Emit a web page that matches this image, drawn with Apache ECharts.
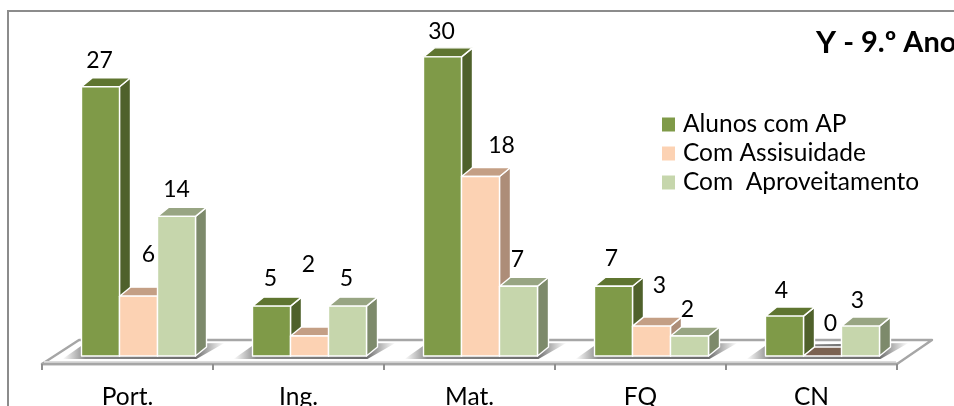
<!DOCTYPE html>
<html><head><meta charset="utf-8">
<style>html,body{margin:0;padding:0;background:#fff;overflow:hidden}#c{width:954px;height:406px}</style>
<script src="https://cdn.jsdelivr.net/npm/echarts@6/dist/echarts.min.js"></script>
</head><body><div id="c"></div>
<script>
const categories = ['Port.', 'Ing.', 'Mat.', 'FQ', 'CN'];
const alunosComAP = [27, 5, 30, 7, 4];
const comAssiduidade = [6, 2, 18, 3, 0];
const comAproveitamento = [14, 5, 7, 2, 3];
const seriesNames = ['Alunos com AP', 'Com Assisuidade', 'Com  Aproveitamento'];

const FONT = 'Lato';
const styles = [
  {front:'#7F9A48', top:'#5F7530', side:'#4F612B', zero:'#5F7530', slot:-38},
  {front:'#FCD2B3', top:'#C49F85', side:'#AD8D78', zero:'#7B6251', slot:0},
  {front:'#C6D6AC', top:'#98A583', side:'#7D8A6B', zero:'#98A583', slot:38}
];
// label offsets from the top-centre of each bar, as placed by hand in the original
const nudges = [
  [[-1,-26],[-1,-28],[-1,-25],[-2,-28],[-3,-26]],
  [[10,-42],[-1,-71],[21,-31],[8,-41],[8,-32]],
  [[0,-27],[-1,-28],[-1,-27],[-2,-26],[-3,-26]]
];
const BW = 38, DX = 11, DY = 9, SHIFT = 11;

function barSeries(values, idx) {
  const s = styles[idx];
  return {
    type: 'custom', name: seriesNames[idx], coordinateSystem: 'cartesian2d', z: 3 + idx,
    itemStyle: {color: s.front},
    data: values.map((v, i) => [categories[i], v]),
    encode: {x: 0, y: 1},
    renderItem(params, api) {
      const i = params.dataIndex, v = api.value(1);
      const base = api.coord([i, 0]), tip = api.coord([i, v]);
      const cx = base[0] + SHIFT + s.slot, l = cx - BW / 2, r = cx + BW / 2, b = base[1], t = tip[1];
      const edge = {stroke: '#fff', lineWidth: 1.4, lineJoin: 'round'};
      const n = nudges[idx][i];
      return {type: 'group', children: [
        {type:'polygon', shape:{points:[[r,b],[r+DX,b-DY],[r+DX,t-DY],[r,t]]}, style:{fill:s.side, ...edge}},
        {type:'polygon', shape:{points:[[l,t],[l+DX,t-DY],[r+DX,t-DY],[r,t]]}, style:{fill:v===0?s.zero:s.top, ...edge}},
        v===0 ? {type:'group'} : {type:'rect', shape:{x:l,y:t,width:BW,height:b-t}, style:{fill:s.front, ...edge}},
        {type:'text', z2:50, style:{text:String(v), x:cx+n[0], y:t+n[1], align:'center', verticalAlign:'middle',
          font:'23px '+FONT, fill:'#000'}}
      ]};
    }
  };
}

const option = {
  animation: false,
  backgroundColor: '#fff',
  title: {
    left: 816, top: 27, padding: 0,
    text: '{a|Y}{b| - 9.º Ano}',
    textStyle: {rich: {
      a: {fontFamily: FONT, fontWeight: 'bold', fontSize: 31, color:'#000'},
      b: {fontFamily: FONT, fontWeight: 'bold', fontSize: 29, color:'#000'}
    }}
  },
  legend: {
    orient: 'vertical', left: 662, top: 112, padding: 0,
    icon: 'rect', itemWidth: 13, itemHeight: 14, itemGap: 4,
    data: seriesNames.map((name, i) => ({name, itemStyle: {color: styles[i].front}})),
    textStyle: {fontFamily: FONT, fontSize: 24.5, lineHeight: 24, color: '#000', padding: [0,0,0,3]}
  },
  grid: {left: 42, width: 855, top: 7, height: 349, outerBoundsMode: 'none'},
  xAxis: {
    type: 'category', data: categories, offset: 8, z: 6,
    axisLine: {onZero: false, lineStyle: {color: '#a6a6a6', width: 2.4}},
    axisTick: {show: true, inside: false, length: 6, interval: 0, lineStyle: {color: '#8f8f8f', width: 2}},
    axisLabel: {fontFamily: FONT, fontSize: 24.5, color: '#000', margin: 21, interval: 0}
  },
  yAxis: {type: 'value', min: 0, max: 35, show: false, splitLine: {show: false}},
  graphic: [
    {type: 'polyline', z: 0, silent: true, shape: {points: [[8,406],[8,11],[954,11]]},
     style: {stroke: '#8c8c8c', lineWidth: 2, fill: 'none'}}
  ],
  series: [
    {
      type: 'custom', coordinateSystem: 'cartesian2d', z: 1, silent: true,
      data: [[categories[0], 0]], encode: {x: 0, y: 1},
      renderItem(params, api) {
        const cs = params.coordSys, y = api.coord([0, 0])[1];
        const x0 = cs.x, x1 = cs.x + cs.width, f = y + 8, bk = y - 16;
        return {type: 'group', children: [
          {type: 'polygon', shape: {points: [[x0,f],[x0+37,bk],[x1+35,bk],[x1,f]]},
           style: {fill: '#fff', stroke: '#a6a6a6', lineWidth: 2.4, lineJoin: 'round'}},
          {type: 'rect', shape: {x: x0+2, y: f-3, width: x1-x0-3, height: 2},
           style: {fill: '#dcdcdc'}}
        ]};
      }
    },
    {
      type: 'custom', coordinateSystem: 'cartesian2d', z: 2, silent: true,
      data: categories.map(c => [c, 0]), encode: {x: 0, y: 1},
      renderItem(params, api) {
        const p = api.coord([params.dataIndex, 0]);
        const cx = p[0] + SHIFT, b = p[1];
        return {type: 'polygon',
          shape: {points: [[cx-76,b+3],[cx-56,b-11],[cx+86,b-13],[cx+58,b+3]]},
          style: {fill: new echarts.graphic.LinearGradient(0,0,1,0,[
            {offset:0, color:'rgba(110,110,110,0)'},
            {offset:0.14, color:'rgba(110,110,110,0.8)'},
            {offset:0.82, color:'rgba(90,90,90,0.9)'},
            {offset:1, color:'rgba(110,110,110,0)'}
          ])}};
      }
    },
    barSeries(alunosComAP, 0),
    barSeries(comAssiduidade, 1),
    barSeries(comAproveitamento, 2)
  ]
};
echarts.init(document.getElementById('c'), null, {renderer: 'canvas'}).setOption(option);
</script></body></html>
